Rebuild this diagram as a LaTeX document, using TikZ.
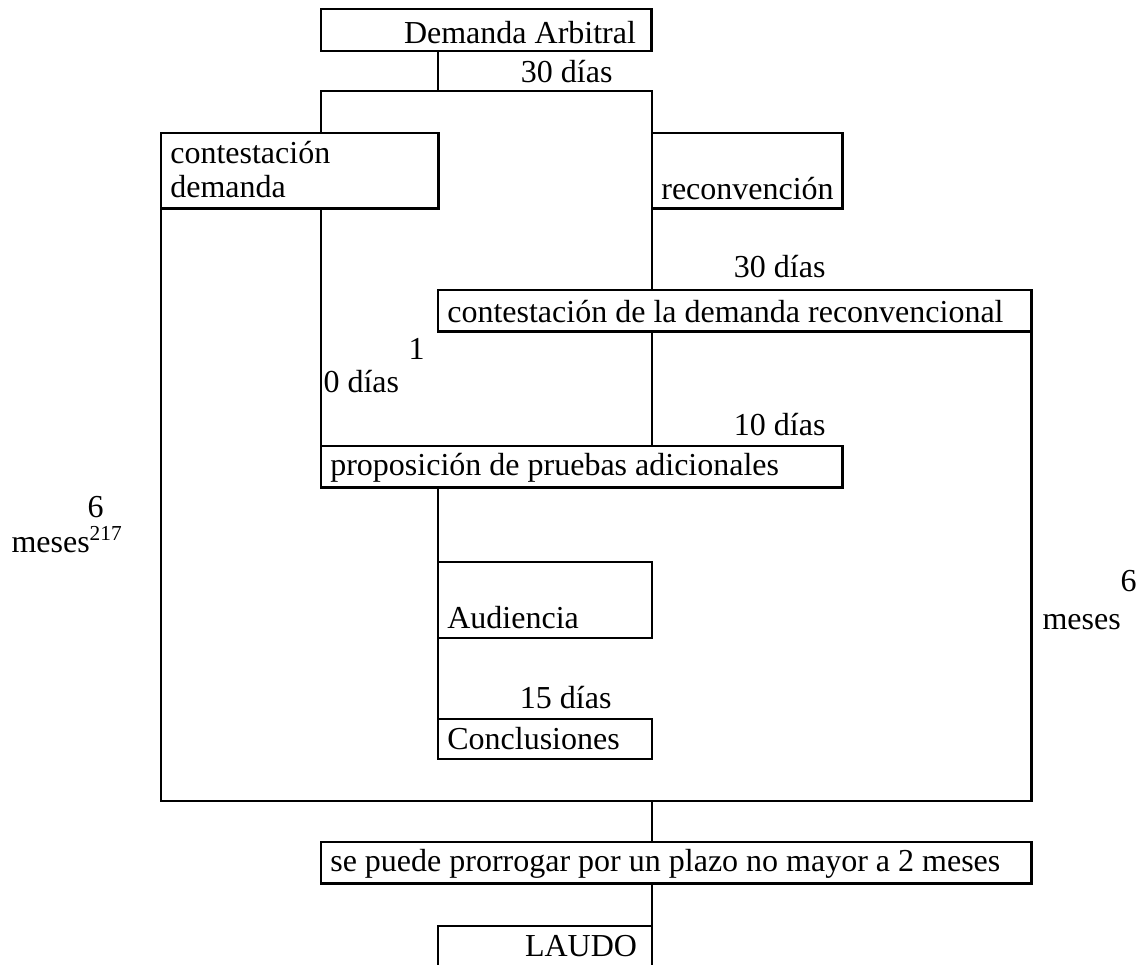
\documentclass[tikz,border=0pt]{standalone}
\usepackage{fontspec}
\setmainfont{Liberation Serif}
\usetikzlibrary{positioning}
\hyphenpenalty=10000
\tikzset{
  caja/.style={draw, line width=1.1pt, anchor=north west, outer sep=0pt, inner ysep=0pt, inner xsep=3.5pt, align=flush left},
  plazo/.style={inner sep=0pt},
  linea/.style={line width=1.1pt}
}

\begin{document}
\begin{tikzpicture}[x=0.375pt, y=-0.375pt, font=\fontsize{12pt}{13.1pt}\selectfont]
		\useasboundingbox (0,0) rectangle (1140,964);
		\node[caja, align=flush right, inner xsep=6pt, text width=112.1pt, text height=12.75pt, text depth=3pt] (demanda) at (321,9) {Demanda Arbitral};
		\node[caja, text width=96.9pt, text height=11.25pt, text depth=16.9pt] (contest) at (161,133) {contestación\\demanda};
		\node[caja, text width=64.6pt, text height=24.75pt, text depth=3.4pt] (reconv) at (652,133) {reconvención};
		\node[caja, text width=215.7pt, text height=12pt, text depth=3.4pt] (creconv) at (438,290) {contestación de la demanda reconvencional};
		\node[caja, text width=188.7pt, text height=10.9pt, text depth=4.5pt] (prop) at (321,446) {proposición de pruebas adicionales};
		\node[caja, text width=73.25pt, text height=24.75pt, text depth=3.75pt] (audiencia) at (438,562) {Audiencia};
		\node[caja, text width=73.25pt, text height=11.25pt, text depth=3.75pt] (conclusiones) at (438,719) {Conclusiones};
		\node[caja, text width=259.6pt, text height=10.9pt, text depth=4.5pt] (prorroga) at (321,842) {se puede prorrogar por un plazo no mayor a 2 meses};
		\node[caja, align=flush right, inner xsep=5.6pt, text width=69.05pt, text height=11.6pt, text depth=3.75pt] (laudo) at (438,926) {LAUDO};
		% plazos
		\node[plazo, anchor=base east] (plazoa) at (613,82) {30 días};
		\node[plazo, anchor=base east] (plazob) at (826,277) {30 días};
		\node[plazo, anchor=south west, align=left] (plazoc) at (323,393) {\hspace*{31.9pt}1\\[-0.7pt]0 días};
		\node[plazo, anchor=base east] (plazod) at (826,435) {10 días};
		\node[plazo, anchor=base east] (plazoe) at (612,708) {15 días};
		\node[plazo, anchor=south west, align=left] (mesesa) at (11,553) {\hspace*{28.5pt}6\\meses\textsuperscript{217}};
		\node[plazo, anchor=south west, align=left] (mesesb) at (1042,630) {\hspace*{29.25pt}6\\[1.1pt]meses};
		\coordinate (bifur) at (438,91);
		\coordinate (fondo) at (652,801);
		\draw[linea] (demanda.south -| bifur) -- (bifur);
		\draw[linea] (contest.north -| demanda.west) |- (bifur -| reconv.west) -- (reconv.north west);
		\draw[linea] (reconv.south west) -- (creconv.north -| reconv.west);
		\draw[linea] (contest.south -| demanda.west) -- (prop.north west);
		\draw[linea] (creconv.south -| reconv.west) -- (prop.north -| reconv.west);
		\draw[linea] (contest.south west) |- (fondo) -| (creconv.south east);
		\draw[linea] (prop.south -| audiencia.west) -- (audiencia.north west);
		\draw[linea] (audiencia.south west) -- (conclusiones.north west);
		\draw[linea] (fondo) -- (prorroga.north -| fondo);
		\draw[linea] (prorroga.south -| laudo.east) -- (laudo.north east);
\end{tikzpicture}
\end{document}
